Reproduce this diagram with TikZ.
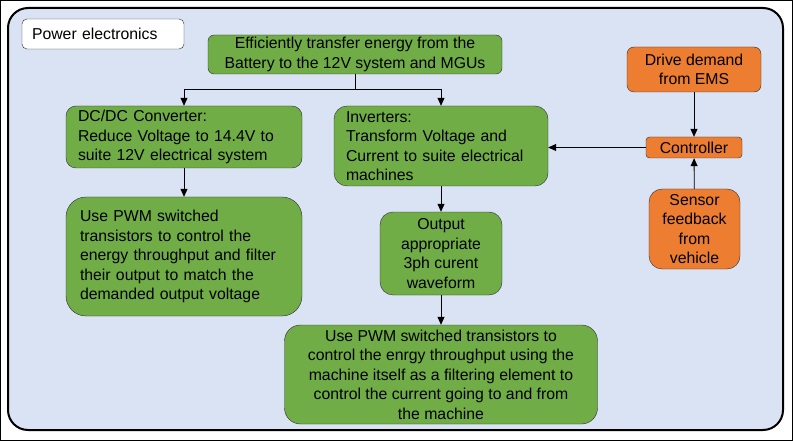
\documentclass[tikz,border=0pt]{standalone}
\usepackage{fontspec}
\setmainfont{Liberation Sans}
\usetikzlibrary{shapes,arrows,arrows.meta,positioning}
\definecolor{boxgreen}{RGB}{112,173,71}
\definecolor{boxorange}{RGB}{237,125,49}
\definecolor{panelblue}{RGB}{218,227,243}
\definecolor{edgegrey}{RGB}{45,45,45}
\tikzstyle{block} = [rectangle, draw=edgegrey, fill=boxgreen, inner sep=0pt,
    font=\fontsize{15.8}{19.5}\selectfont, align=center]
\tikzstyle{ctrl} = [block, fill=boxorange]
\tikzstyle{line} = [draw, -{Triangle[length=8pt,width=7pt]}, line width=0.8pt]

\begin{document}
\begin{tikzpicture}[x=1pt, y=-1pt]
		\useasboundingbox (0,0) rectangle (793,441);
		\draw [line width=1pt] (0.5,0.5) rectangle (792.5,440.5);
		\draw [fill=panelblue, line width=2pt, rounded corners=20pt] (8,8) rectangle (783,430);
		
		\node [block, fill=white, minimum height=30pt, inner xsep=10pt, text width=142pt, align=left, rounded corners=5pt] (title) at (103,34) {Power electronics};
		\node [block, minimum width=294pt, minimum height=39pt, rounded corners=6pt] (goal) at (355,54.5) {Efficiently transfer energy from the\\Battery to the 12V system and MGUs};
		\node [block, minimum height=62pt, inner xsep=12pt, text width=212pt, align=left, rounded corners=10pt] (dcdc) at (184,137) {DC/DC Converter:\\Reduce Voltage to 14.4V to\\suite 12V electrical system};
		\node [block, minimum height=80pt, inner xsep=12pt, text width=190pt, align=left, rounded corners=13pt] (inv) at (441,146) {Inverters:\\Transform Voltage and\\Current to suite electrical\\machines};
		\node [block, minimum height=119pt, inner xsep=14pt, text width=208pt, align=left, rounded corners=20pt] (dcpwm) at (184,256.5) {Use PWM switched\\transistors to control the\\energy throughput and filter\\their output to match the\\demanded output voltage};
		\node [block, minimum width=122pt, minimum height=83pt, rounded corners=13pt] (wave) at (441,253.5) {Output\\appropriate\\3ph curent\\waveform};
		\node [block, minimum width=313pt, minimum height=99pt, rounded corners=16pt] (invpwm) at (441,374.5) {Use PWM switched transistors to\\control the enrgy throughput using the\\machine itself as a filtering element to\\control the current going to and from\\the machine};
		
		\node [ctrl, minimum width=134pt, minimum height=45pt, rounded corners=7pt] (ems) at (694,69.5) {Drive demand\\from EMS};
		\node [ctrl, minimum width=96pt, minimum height=21pt, rounded corners=3.5pt] (control) at (694,147.5) {Controller};
		\node [ctrl, minimum width=91pt, minimum height=80pt, rounded corners=13pt] (sensor) at (694.5,229) {Sensor\\feedback\\from\\vehicle};
		
		\path [line] (goal.south) -- ++(0,15) -| (dcdc.north);
		\path [line] (goal.south) -- ++(0,15) -| (inv.north);
		\path [line] (dcdc) -- (dcpwm);
		\path [line] (inv) -- (wave);
		\path [line] (wave) -- (invpwm);
		\path [line] (ems) -- (control);
		\path [line] (sensor) -- (control);
		\path [line] (control) -- (control -| inv.east);
	\end{tikzpicture}
\end{document}
